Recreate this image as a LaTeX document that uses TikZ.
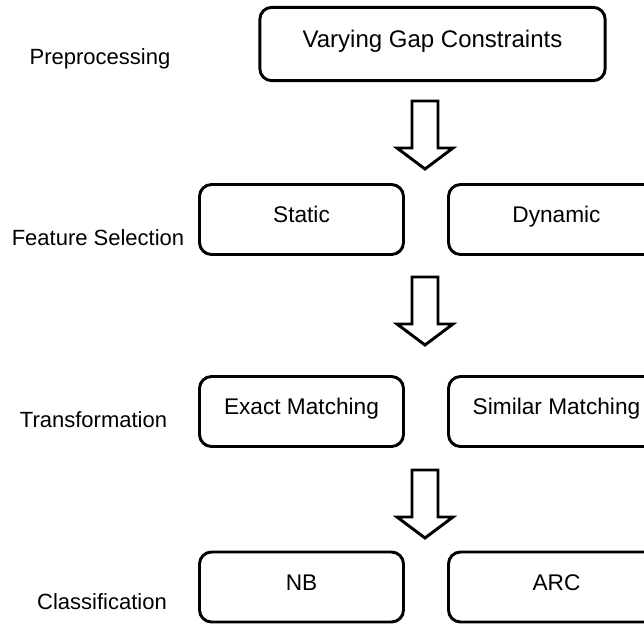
\documentclass[tikz,border=0pt]{standalone}
\usepackage{fontspec}
\setmainfont{Liberation Sans}
\begin{document}
\begin{tikzpicture}[x=0.75pt,y=-0.75pt,
                    stage node/.style={draw,rounded corners=9pt,line width=2.2pt,minimum width=153pt,minimum height=52.5pt,text height=12pt,text depth=7pt,font=\fontsize{17}{20}\selectfont},
                    right node/.style={stage node,minimum width=162pt},
                    level node/.style={font=\fontsize{16.5}{20}\selectfont},
                    down arrow/.pic={\draw[line width=2.2pt,line join=miter] (-13,0) -- (13,0) -- (13,47) -- (28,47) -- (0,68) -- (-28,47) -- (-13,47) -- cycle;}
                   ]
  \useasboundingbox (0,0) rectangle (644,626);

  \node[level node] (pre) at (100,59) {Preprocessing};
  \node[level node] (fs) at (98,238) {Feature Selection};
  \node[level node] (tr) at (93.5,420) {Transformation};
  \node[level node] (cl) at (102,602) {Classification};

  \node[stage node,minimum width=259pt,minimum height=55pt,font=\fontsize{18}{22}\selectfont] (vgc) at (432.5,44) {Varying Gap Constraints};
  \node[stage node] (static) at (301.5,219.5) {Static};
  \node[right node] (dynamic) at (556.5,219.5) {Dynamic};
  \node[stage node] (exact) at (301.5,411.5) {Exact Matching};
  \node[right node] (similar) at (556.5,411.5) {Similar Matching};
  \node[stage node] (nb) at (301.5,587) {NB};
  \node[right node] (arc) at (556.5,587) {ARC};

  \coordinate (a1) at (425,101);
  \coordinate (a2) at (425,277);
  \coordinate (a3) at (425,470);
  \pic at (a1) {down arrow};
  \pic at (a2) {down arrow};
  \pic at (a3) {down arrow};
\end{tikzpicture}
\end{document}
